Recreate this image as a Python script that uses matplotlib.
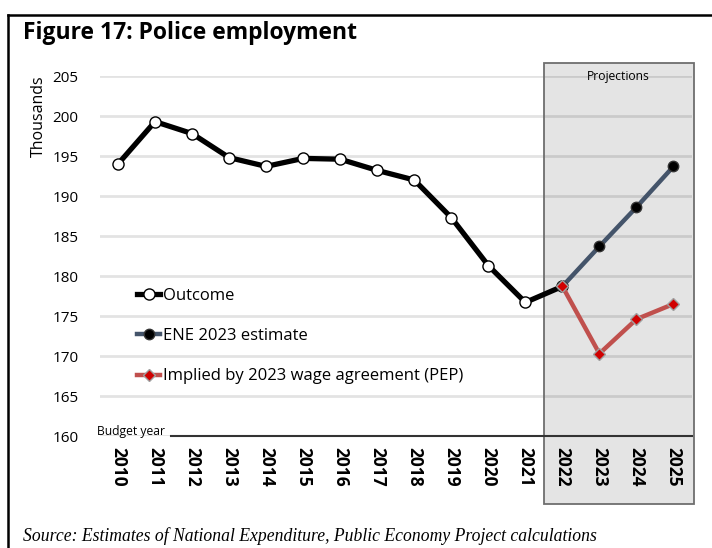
import numpy as np
import matplotlib.pyplot as plt
from matplotlib.patches import Rectangle
from matplotlib.lines import Line2D

years = [str(y) for y in range(2010, 2026)]
outcome = [194.0, 199.3, 197.8, 194.8, 193.7, 194.7, 194.6, 193.2, 192.0, 187.3, 181.3, 176.7, 178.7]
ene = [178.7, 183.7, 188.6, 193.7]
pep = [178.7, 170.3, 174.6, 176.5]
first_proj = 12  # index of 2022

W, H = 712, 548
fig = plt.figure(figsize=(W / 100, H / 100), dpi=100)
plt.rcParams['font.family'] = ['Open Sans', 'DejaVu Sans']

ax = fig.add_axes([99.5 / W, 1 - 436 / H, (692 - 99.5) / W, (436 - 76) / H])
x = np.arange(len(years))
ax.set_xlim(-0.5, len(years) - 0.5)
ax.set_ylim(160, 205)

# grid
ax.set_yticks(np.arange(160, 206, 5))
ax.yaxis.grid(True, color='#e3e3e3', lw=2, zorder=0)
ax.set_axisbelow(True)
for s in ax.spines.values():
    s.set_visible(False)
ax.tick_params(axis='y', length=0, labelsize=11, pad=15)
ax.tick_params(axis='x', length=0, labelsize=12.5, pad=8)
ax.set_xticks(x)
ax.set_xticklabels(years, rotation=270, fontweight='bold')

# axis line (part left of it is taken by the "Budget year" label)
ax.axhline(160, xmin=(171 - 99.5) / (692 - 99.5), xmax=1, color='#333333', lw=1.5, zorder=3, clip_on=False)

# projections box
ix = first_proj - 0.5
bw = len(years) - 0.5 - ix + 0.05
ax.add_patch(Rectangle((ix, 151.5), bw, 206.6 - 151.5,
                       facecolor='black', alpha=0.105, edgecolor='none', zorder=1, clip_on=False))
ax.add_patch(Rectangle((ix, 151.5), bw, 206.6 - 151.5,
                       facecolor='none', edgecolor='#6e6e6e', lw=1.3, zorder=1, clip_on=False))
ax.text((ix + len(years) - 0.5) / 2, 205, 'Projections', ha='center', va='center', fontsize=8.7, zorder=2)

xo = x[:len(outcome)]
xp = x[first_proj:]
ax.plot(xp, ene, color='#44546a', lw=3.2, marker='o', ms=7.5, mfc='black', mec='#333333', zorder=4,
        label='ENE 2023 estimate')
ax.plot(xp, pep, color='#c0504d', lw=3.2, marker='D', ms=6.5, mfc='#d00000', mec='#a0a0a0', mew=1, zorder=5,
        label='Implied by 2023 wage agreement (PEP)')
ax.plot(xo, outcome, color='black', lw=3.8, marker='o', ms=8, mfc='white', mec='black', mew=1, zorder=3,
        label='Outcome')

h, l = ax.get_legend_handles_labels()
order = [2, 0, 1]
leg = ax.legend([h[i] for i in order], [l[i] for i in order], loc='upper left',
                bbox_to_anchor=((137 - 99.5) / (692 - 99.5), (436 - 288) / 360),
                frameon=False, fontsize=12, handlelength=1.4, handletextpad=0.15,
                labelspacing=1.45, borderaxespad=0, borderpad=0)

fig.text(38.5 / W, 1 - 116 / H, 'Thousands', rotation=90, ha='center', va='center', fontsize=11.5)
fig.text(97 / W, 1 - 431 / H, 'Budget year', ha='left', va='center', fontsize=8.7)

# title and source
fig.text(23 / W, 1 - 33 / H, 'Figure 17: Police employment', ha='left', va='center',
         fontsize=16.5, fontweight='bold')
fig.text(23 / W, 1 - 536 / H, 'Source: Estimates of National Expenditure, Public Economy Project calculations',
         ha='left', va='center', fontsize=12.7, style='italic', family='Liberation Serif')

# outer frame
fig.add_artist(Line2D([8 / W, 8 / W], [0, 1 - 15 / H], color='black', lw=1.8))
fig.add_artist(Line2D([8 / W, 1], [1 - 15 / H, 1 - 15 / H], color='black', lw=1.8))

fig.savefig('out.png', dpi=100)
